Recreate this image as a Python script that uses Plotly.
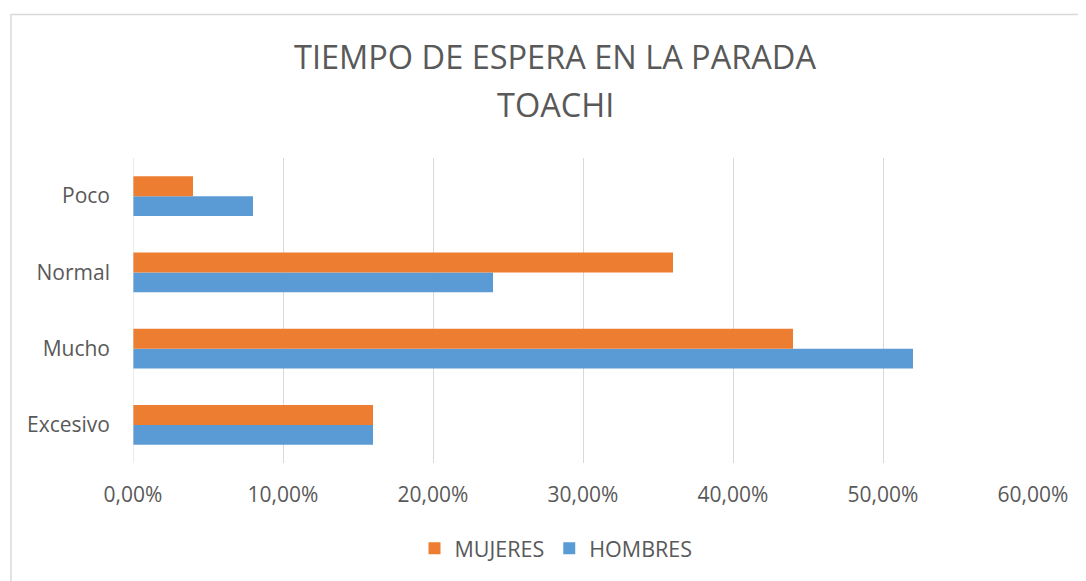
import plotly.graph_objects as go

categories = ["Excesivo", "Mucho", "Normal", "Poco"]
hombres = [0.16, 0.52, 0.24, 0.08]
mujeres = [0.16, 0.44, 0.36, 0.04]
tick_vals = [0, 0.1, 0.2, 0.3, 0.4, 0.5, 0.6]
tick_text = ["0,00%", "10,00%", "20,00%", "30,00%", "40,00%", "50,00%", "60,00%"]
title_line1 = "TIEMPO DE ESPERA EN LA PARADA"
title_line2 = "TOACHI"

FONT = "Open Sans"
GREY = "#595959"

fig = go.Figure()
fig.add_trace(go.Bar(y=categories, x=hombres, name="HOMBRES", orientation="h",
                     marker=dict(color="#5B9BD5", line=dict(width=0))))
fig.add_trace(go.Bar(y=categories, x=mujeres, name="MUJERES", orientation="h",
                     marker=dict(color="#ED7D31", line=dict(width=0))))

OFF = 8  # page offset of the figure
W, H = 1086 - OFF, 581 - OFF
L, T = 133 - OFF, 158 - OFF
R = W - (1033 - OFF)
B = H - (466 - OFF)
pw, ph = W - L - R, H - T - B

def px(xp):
    return (xp - OFF - L) / pw

def py(yp):
    return (H - B - (yp - OFF)) / ph

fig.update_layout(
    width=W, height=H,
    margin=dict(l=L, r=R, t=T, b=B),
    paper_bgcolor="white", plot_bgcolor="white",
    barmode="group", bargap=0.48, bargroupgap=0,
    font=dict(family=FONT, color=GREY, size=21),
    title=dict(text=title_line1,
               x=px(555), xref="paper", xanchor="center",
               y=1 - (58 - OFF) / H, yref="container", yanchor="middle",
               font=dict(family=FONT, size=32.5, color=GREY)),
    annotations=[
        dict(text=title_line2, xref="paper", yref="paper",
             x=px(555), y=py(104), xanchor="center", yanchor="middle",
             showarrow=False, font=dict(family=FONT, size=32.5, color=GREY)),
    ],
    showlegend=True,
    legend=dict(orientation="h", traceorder="reversed",
                x=px(556), xanchor="center", y=py(552), yanchor="middle",
                font=dict(size=21.5, color=GREY), itemwidth=30),
    xaxis=dict(range=[0, 0.6], tickvals=tick_vals, ticktext=tick_text,
               showgrid=True, gridcolor="#D9D9D9", gridwidth=1,
               zeroline=False, showline=False, ticks="", ticklabelstandoff=17,
               fixedrange=True),
    yaxis=dict(showgrid=False, zeroline=False, showline=False, ticks="",
               ticklabelstandoff=22, fixedrange=True),
    shapes=[
        dict(type="line", xref="x", yref="paper", x0=0, x1=0, y0=0, y1=1,
             line=dict(color="#D9D9D9", width=1)),
        dict(type="rect", xref="paper", yref="paper",
             x0=px(11), x1=px(1095), y0=py(13), y1=py(600),
             line=dict(color="#D9D9D9", width=1.5), fillcolor="rgba(0,0,0,0)"),
    ],
)

fig.write_html("out.html")
